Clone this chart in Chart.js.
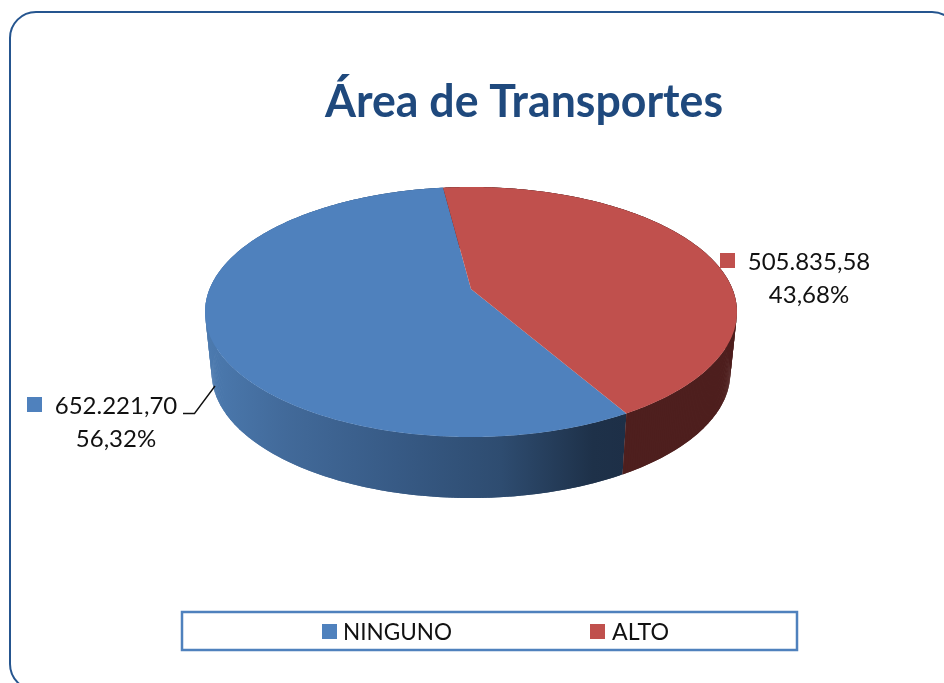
<!DOCTYPE html>
<html><head><meta charset="utf-8">
<style>html,body{margin:0;padding:0;background:#fff}canvas{display:block}</style>
<script src="https://cdn.jsdelivr.net/npm/chart.js@4"></script>
</head><body><canvas id="c" width="944" height="683"></canvas>
<script>
const titleText = 'Área de Transportes';
const categories = ['NINGUNO', 'ALTO'];
const seriesValues = [652221.70, 505835.58];
const sliceColors = ['#4F81BD', '#C0504D'];

const FONT = 'Lato';
const tilt = 0.462, persp = 0.184, wallDrop = 61, wallShrink = 0.975;

function proj(el, a, wall) {
  const x = Math.cos(a), y = Math.sin(a), d = 1 - persp * y;
  let X = el.outerRadius * x / d, Y = el.outerRadius * tilt * y / d;
  if (wall) { X *= wallShrink; Y += wallDrop; }
  return [el.x + X, el.y + Y];
}
function arcPts(el, wall) {
  const pts = [], n = Math.ceil((el.endAngle - el.startAngle) / 0.01);
  for (let i = 0; i <= n; i++) {
    pts.push(proj(el, el.startAngle + (el.endAngle - el.startAngle) * i / n, wall));
  }
  return pts;
}
function wallStyle(ctx, i, el) {
  if (i === 1) return '#4E1F1E';
  const g = ctx.createLinearGradient(el.x - el.outerRadius, 0, el.x + 155, 0);
  g.addColorStop(0, '#4B79AE');
  g.addColorStop(0.18, '#426A9A');
  g.addColorStop(0.45, '#375A85');
  g.addColorStop(0.7, '#2E4C70');
  g.addColorStop(0.92, '#1E3149');
  g.addColorStop(1, '#1D2F47');
  return g;
}
function fmtNum(v) { return v.toLocaleString('de-DE', {minimumFractionDigits: 2, maximumFractionDigits: 2}); }
function fmtPct(v, t) { return (v / t * 100).toLocaleString('de-DE', {minimumFractionDigits: 2, maximumFractionDigits: 2}) + '%'; }

const pie3d = {
  id: 'pie3d',
  beforeDraw(chart) {
    const c = chart.ctx;
    c.save();
    c.fillStyle = '#fff';
    c.fillRect(0, 0, 944, 683);
    c.strokeStyle = '#25558F';
    c.lineWidth = 2;
    c.beginPath();
    c.roundRect(10, 12, 948, 678, 26);
    c.stroke();
    c.restore();
  },
  beforeDatasetDraw(chart) {
    const c = chart.ctx, arcs = chart.getDatasetMeta(0).data;
    c.save();
    arcs.forEach((el, i) => {
      const top = arcPts(el, false), bot = arcPts(el, true);
      c.fillStyle = wallStyle(c, i, el);
      for (let k = 0; k + 1 < top.length; k++) {
        const k2 = Math.min(k + 2, top.length - 1);
        c.beginPath();
        c.moveTo(top[k][0], top[k][1]);
        c.lineTo(top[k2][0], top[k2][1]);
        c.lineTo(bot[k2][0], bot[k2][1]);
        c.lineTo(bot[k][0], bot[k][1]);
        c.closePath();
        c.fill();
      }
    });
    arcs.forEach((el, i) => {
      c.beginPath();
      c.moveTo(el.x, el.y);
      arcPts(el, false).forEach(p => c.lineTo(p[0], p[1]));
      c.closePath();
      c.fillStyle = sliceColors[i];
      c.fill();
    });
    c.restore();
    return false;
  },
  afterDraw(chart) {
    const c = chart.ctx, total = seriesValues.reduce((a, b) => a + b, 0);
    c.save();
    c.textBaseline = 'alphabetic';
    c.textAlign = 'center';
    // title
    c.fillStyle = '#1F497D';
    c.font = 'bold 45px ' + FONT;
    c.fillText(titleText, 524, 117, 398);
    // data labels
    c.font = '24px ' + FONT;
    c.fillStyle = '#111';
    c.fillText(fmtNum(seriesValues[0]), 116, 414);
    c.fillText(fmtPct(seriesValues[0], total), 116, 447);
    c.fillText(fmtNum(seriesValues[1]), 809, 270);
    c.fillText(fmtPct(seriesValues[1], total), 809, 303);
    c.fillStyle = sliceColors[0]; c.fillRect(27, 397, 15, 15);
    c.fillStyle = sliceColors[1]; c.fillRect(720, 253, 15, 15);
    // leader line
    c.strokeStyle = '#111'; c.lineWidth = 1.4;
    c.beginPath(); c.moveTo(183, 413.5); c.lineTo(194.5, 413.5); c.lineTo(215, 386); c.stroke();
    // legend
    c.strokeStyle = '#4F81BD'; c.lineWidth = 2.5;
    c.strokeRect(182, 612, 615, 38);
    c.textAlign = 'left';
    c.font = '24px ' + FONT;
    [[322, 343, 109], [590, 612, 57]].forEach((p, i) => {
      c.fillStyle = sliceColors[i]; c.fillRect(p[0], 624, 15, 15);
      c.fillStyle = '#111'; c.fillText(categories[i], p[1], 640, p[2]);
    });
    c.restore();
  }
};

new Chart(document.getElementById('c'), {
  type: 'pie',
  data: { labels: categories, datasets: [{ data: seriesValues, backgroundColor: sliceColors, borderWidth: 0 }] },
  options: {
    responsive: false,
    animation: false,
    rotation: 150,
    layout: { padding: { left: 209.6, right: 211.6, top: 27.6, bottom: 132.6 } },
    plugins: { legend: { display: false }, title: { display: false }, tooltip: { enabled: false } }
  },
  plugins: [pie3d]
});
</script></body></html>
